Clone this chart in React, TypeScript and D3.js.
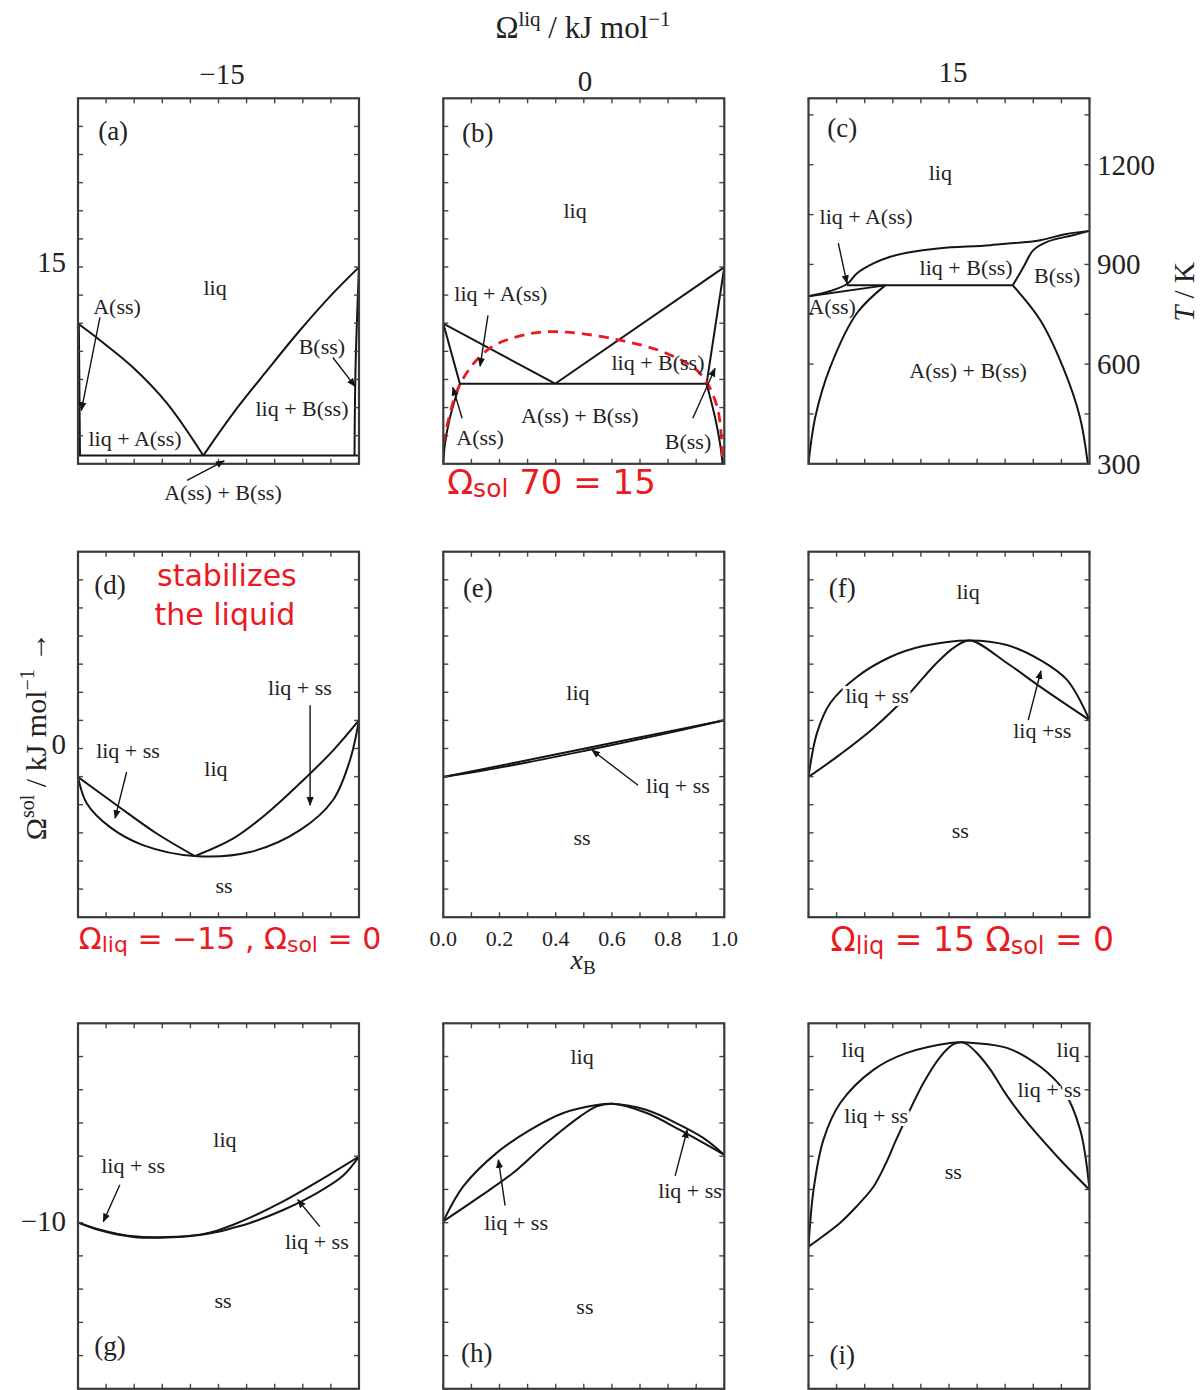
import React from 'react';
import * as d3 from 'd3';

type Pt = [number, number];

// ---------------- data (x_B, T/K) ----------------
// (a) Ωliq=-15, Ωsol=15
const aLiqA: Pt[] = [[0, 722], [0.078, 672], [0.196, 590], [0.317, 482], [0.446, 325]];
const aLiqB: Pt[] = [[0.446, 325], [0.552, 452], [0.673, 581], [0.79, 702], [0.907, 813], [1, 892]];
const aEut: Pt[] = [[0, 325], [1, 325]];
const aSolA: Pt[] = [[0.003, 722], [0.007, 325]];
const aSolB: Pt[] = [[1, 892], [0.988, 600], [0.984, 325]];

// (b) Ωliq=0, Ωsol=15
const bLiqA: Pt[] = [[0, 722], [0.398, 541]];
const bLiqB: Pt[] = [[0.398, 541], [1, 892]];
const bEut: Pt[] = [[0.059, 541], [0.937, 541]];
const bSolA: Pt[] = [[0, 722], [0.059, 541]];
const bSolvA: Pt[] = [[0.059, 541], [0.024, 440], [0.006, 361], [0, 300]];
const bSolB: Pt[] = [[1, 892], [0.937, 541]];
const bSolvB: Pt[] = [[0.937, 541], [0.967, 440], [0.985, 360], [0.994, 300]];
const bRedGap: Pt[] = [[0, 361], [0.059, 539], [0.166, 648], [0.319, 693], [0.44, 696], [0.629, 672], [0.796, 632], [0.914, 572], [0.975, 470], [0.993, 319]];

// (c) Ωliq=15, Ωsol=15
const cLiq: Pt[] = [[0, 804], [0.077, 820], [0.137, 841], [0.172, 873], [0.231, 903], [0.291, 923], [0.35, 935], [0.469, 949], [0.647, 958], [0.825, 973], [0.913, 991], [1, 1001]];
const cSolA: Pt[] = [[0, 804], [0.273, 837]];
const cPer: Pt[] = [[0.137, 837], [0.727, 837]];
const cSolvA: Pt[] = [[0.273, 837], [0.172, 753], [0.077, 590], [0.024, 440], [0, 300]];
const cSolvB: Pt[] = [[0.727, 837], [0.825, 732], [0.906, 590], [0.966, 440], [0.994, 300]];
const cSolB: Pt[] = [[0.727, 837], [0.765, 892], [0.8, 943], [0.849, 968], [0.942, 988], [1, 1001]];

// (d) Ωliq=-15, Ωsol=0
const dLiqA: Pt[] = [[0, 722], [0.138, 637], [0.28, 552], [0.416, 484]];
const dLiqB: Pt[] = [[0.416, 484], [0.553, 537], [0.672, 612], [0.79, 703], [0.909, 803], [1, 893]];
const dSol: Pt[] = [[0, 722], [0.031, 643], [0.114, 571], [0.231, 517], [0.416, 484], [0.612, 496], [0.79, 562], [0.907, 652], [0.968, 773], [1, 893]];

// (e) Ωliq=0, Ωsol=0
const eLiq: Pt[] = [[0, 722], [0.25, 764], [0.5, 807], [0.75, 850], [1, 893]];
const eSol: Pt[] = [[0, 722], [0.25, 758], [0.5, 800], [0.75, 845], [1, 893]];

// (f) Ωliq=15, Ωsol=0
const fLiq: Pt[] = [[0, 722], [0.03, 854], [0.077, 944], [0.172, 1023], [0.291, 1083], [0.408, 1116], [0.575, 1133], [0.706, 1119], [0.825, 1074], [0.92, 1014], [1, 893]];
const fSol: Pt[] = [[0, 722], [0.113, 790], [0.23, 868], [0.35, 965], [0.45, 1060], [0.52, 1113], [0.575, 1133], [0.706, 1065], [0.825, 993], [1, 893]];

// (g) Ωliq=-15, Ωsol=-10
const gLiq: Pt[] = [[0, 801], [0.078, 779], [0.197, 759], [0.316, 757], [0.434, 764], [0.494, 776], [0.55, 793], [0.612, 815], [0.73, 864], [0.85, 922], [1, 999]];
const gSol: Pt[] = [[0, 801], [0.078, 777], [0.197, 757], [0.316, 755], [0.434, 763], [0.494, 772], [0.55, 784], [0.612, 799], [0.73, 838], [0.85, 889], [0.944, 942], [1, 999]];

// (h) Ωliq=0, Ωsol=-10
const hLiq: Pt[] = [[0, 804], [0.071, 909], [0.19, 1010], [0.309, 1079], [0.427, 1130], [0.546, 1154], [0.6, 1158], [0.724, 1139], [0.842, 1094], [0.925, 1055], [1, 1004]];
const hSol: Pt[] = [[0, 804], [0.131, 879], [0.249, 950], [0.368, 1040], [0.486, 1119], [0.546, 1150], [0.6, 1158], [0.724, 1130], [0.842, 1079], [1, 1004]];

// (i) Ωliq=15, Ωsol=-10
const iLiq: Pt[] = [[0, 728], [0.018, 899], [0.053, 1049], [0.113, 1160], [0.231, 1260], [0.35, 1311], [0.504, 1341], [0.545, 1343], [0.587, 1341], [0.706, 1326], [0.825, 1269], [0.907, 1199], [0.967, 1079], [1, 899]];
const iSol: Pt[] = [[0, 728], [0.113, 800], [0.17, 848], [0.231, 908], [0.275, 978], [0.315, 1055], [0.409, 1220], [0.469, 1299], [0.516, 1337], [0.545, 1343], [0.564, 1337], [0.6, 1310], [0.646, 1262], [0.7, 1190], [0.765, 1115], [0.884, 1000], [1, 899]];

// axis texts
const omegaLiqValues = ['\u221215', '0', '15'];
const omegaSolValues = ['15', '0', '\u221210'];
const tempTicks = [300, 600, 900, 1200];
const xTicks = [0, 0.2, 0.4, 0.6, 0.8, 1.0];
const xMinorTicks = d3.range(0, 1.0001, 0.1);
const T_MIN = 300;
const T_MAX = 1400;

// ---------------- layout ----------------
const colLeft = [78, 443.3, 808.5];
const rowTop = [98.3, 551.7, 1023.3];
const PW = 281;
const PH = 365.5;
const FONT = '"Liberation Serif", "Times New Roman", serif';
const HAND = '"DejaVu Sans", sans-serif';
const RED = '#ea1a1f';
const INK = '#151515';

interface Curve { pts: Pt[]; red?: boolean }
interface Label { t: string; x: number; T: number; halo?: boolean; big?: boolean }
interface Arrow { from: Pt; to: Pt }
interface Panel { id: string; col: number; row: number; curves: Curve[]; labels: Label[]; arrows: Arrow[]; yTicks: number[] }

const ticks13 = d3.range(1, 13).map(i => T_MIN + (i * (T_MAX - T_MIN)) / 13);
const ticksC = [450, 600, 750, 900, 1050, 1200, 1350];
const ticks100 = d3.range(400, 1301, 100);

const panels: Panel[] = [
  {
    id: 'a', col: 0, row: 0, yTicks: ticks13,
    curves: [aLiqA, aLiqB, aEut, aSolA, aSolB].map(p => ({ pts: p })),
    labels: [
      { t: '(a)', x: 0.125, T: 1301, big: true },
      { t: 'liq', x: 0.488, T: 831 },
      { t: 'A(ss)', x: 0.139, T: 774 },
      { t: 'B(ss)', x: 0.868, T: 654 },
      { t: 'liq + B(ss)', x: 0.797, T: 467 },
      { t: 'liq + A(ss)', x: 0.203, T: 376 },
      { t: 'A(ss) + B(ss)', x: 0.516, T: 214 },
    ],
    arrows: [
      { from: [0.078, 741], to: [0.012, 461] },
      { from: [0.907, 620], to: [0.986, 533] },
      { from: [0.388, 250], to: [0.52, 309] },
    ],
  },
  {
    id: 'b', col: 1, row: 0, yTicks: ticks13,
    curves: [
      ...[bLiqA, bLiqB, bEut, bSolA, bSolvA, bSolB, bSolvB].map(p => ({ pts: p })),
      { pts: bRedGap, red: true },
    ],
    labels: [
      { t: '(b)', x: 0.123, T: 1296, big: true },
      { t: 'liq', x: 0.469, T: 1063 },
      { t: 'liq + A(ss)', x: 0.205, T: 813 },
      { t: 'liq + B(ss)', x: 0.764, T: 605 },
      { t: 'A(ss) + B(ss)', x: 0.486, T: 446 },
      { t: 'A(ss)', x: 0.131, T: 380 },
      { t: 'B(ss)', x: 0.871, T: 367 },
    ],
    arrows: [
      { from: [0.159, 747], to: [0.131, 594] },
      { from: [0.067, 437], to: [0.034, 530] },
      { from: [0.888, 437], to: [0.967, 587] },
    ],
  },
  {
    id: 'c', col: 2, row: 0, yTicks: ticksC,
    curves: [cLiq, cSolA, cPer, cSolvA, cSolvB, cSolB].map(p => ({ pts: p })),
    labels: [
      { t: '(c)', x: 0.12, T: 1310, big: true },
      { t: 'liq', x: 0.469, T: 1178 },
      { t: 'liq + A(ss)', x: 0.205, T: 1045 },
      { t: 'liq + B(ss)', x: 0.561, T: 892 },
      { t: 'B(ss)', x: 0.885, T: 868 },
      { t: 'A(ss)', x: 0.084, T: 774 },
      { t: 'A(ss) + B(ss)', x: 0.568, T: 581 },
    ],
    arrows: [{ from: [0.106, 964], to: [0.137, 843] }],
  },
  {
    id: 'd', col: 0, row: 1, yTicks: ticks13,
    curves: [dLiqA, dLiqB, dSol].map(p => ({ pts: p })),
    labels: [
      { t: '(d)', x: 0.114, T: 1300, big: true },
      { t: 'liq + ss', x: 0.178, T: 803 },
      { t: 'liq', x: 0.491, T: 749 },
      { t: 'liq + ss', x: 0.79, T: 990 },
      { t: 'ss', x: 0.52, T: 396 },
    ],
    arrows: [
      { from: [0.173, 737], to: [0.132, 598] },
      { from: [0.826, 938], to: [0.826, 637] },
    ],
  },
  {
    id: 'e', col: 1, row: 1, yTicks: ticks13,
    curves: [eLiq, eSol].map(p => ({ pts: p })),
    labels: [
      { t: '(e)', x: 0.123, T: 1291, big: true },
      { t: 'liq', x: 0.479, T: 977 },
      { t: 'liq + ss', x: 0.835, T: 697 },
      { t: 'ss', x: 0.494, T: 541 },
    ],
    arrows: [{ from: [0.693, 697], to: [0.529, 803] }],
  },
  {
    id: 'f', col: 2, row: 1, yTicks: ticks13,
    curves: [fLiq, fSol].map(p => ({ pts: p })),
    labels: [
      { t: '(f)', x: 0.12, T: 1291, big: true },
      { t: 'liq', x: 0.568, T: 1279 },
      { t: 'liq + ss', x: 0.244, T: 968, halo: true },
      { t: 'liq +ss', x: 0.832, T: 863 },
      { t: 'ss', x: 0.54, T: 562 },
    ],
    arrows: [{ from: [0.782, 893], to: [0.827, 1041] }],
  },
  {
    id: 'g', col: 0, row: 2, yTicks: ticks100,
    curves: [gLiq, gSol].map(p => ({ pts: p })),
    labels: [
      { t: 'liq', x: 0.523, T: 1049 },
      { t: 'liq + ss', x: 0.196, T: 971 },
      { t: 'liq + ss', x: 0.85, T: 743 },
      { t: 'ss', x: 0.516, T: 565 },
      { t: '(g)', x: 0.114, T: 430, big: true },
    ],
    arrows: [
      { from: [0.149, 914], to: [0.09, 803] },
      { from: [0.861, 788], to: [0.782, 869] },
    ],
  },
  {
    id: 'h', col: 1, row: 2, yTicks: ticks100,
    curves: [hLiq, hSol].map(p => ({ pts: p })),
    labels: [
      { t: 'liq', x: 0.494, T: 1299 },
      { t: 'liq + ss', x: 0.259, T: 800 },
      { t: 'liq + ss', x: 0.878, T: 896 },
      { t: 'ss', x: 0.504, T: 547 },
      { t: '(h)', x: 0.119, T: 409, big: true },
    ],
    arrows: [
      { from: [0.22, 851], to: [0.196, 989] },
      { from: [0.825, 941], to: [0.868, 1079] },
    ],
  },
  {
    id: 'i', col: 2, row: 2, yTicks: ticks100,
    curves: [iLiq, iSol].map(p => ({ pts: p })),
    labels: [
      { t: 'liq', x: 0.159, T: 1320 },
      { t: 'liq', x: 0.924, T: 1320 },
      { t: 'liq + ss', x: 0.241, T: 1124, halo: true },
      { t: 'liq + ss', x: 0.857, T: 1200, halo: true },
      { t: 'ss', x: 0.515, T: 953 },
      { t: '(i)', x: 0.12, T: 403, big: true },
    ],
    arrows: [],
  },
];

function scalesFor(col: number, row: number) {
  const left = colLeft[col];
  const top = rowTop[row];
  const x = d3.scaleLinear().domain([0, 1]).range([left, left + PW]);
  const y = d3.scaleLinear().domain([T_MIN, T_MAX]).range([top + PH, top]);
  return { x, y, left, top };
}

function PanelView({ p }: { p: Panel }) {
  const { x, y, left, top } = scalesFor(p.col, p.row);
  const gen = d3
    .line<Pt>()
    .x(d => x(d[0]))
    .y(d => y(d[1]))
    .curve(d3.curveCatmullRom.alpha(0.5));
  const clipId = `clip-${p.id}`;
  const right = left + PW;
  const bottom = top + PH;
  const TL = 5;
  return (
    <g>
      <defs>
        <clipPath id={clipId}>
          <rect x={left} y={top} width={PW} height={PH} />
        </clipPath>
      </defs>
      <g clipPath={`url(#${clipId})`}>
        {p.curves.map((c, i) => (
          <path
            key={i}
            d={gen(c.pts) || ''}
            fill="none"
            stroke={c.red ? RED : INK}
            strokeWidth={c.red ? 2.8 : 2}
            strokeDasharray={c.red ? '10 7' : undefined}
            strokeLinejoin="round"
          />
        ))}
      </g>
      <g stroke="#444" strokeWidth={1.4}>
        {xMinorTicks.map((v, i) => (
          <g key={'x' + i}>
            <line x1={x(v)} x2={x(v)} y1={top} y2={top + TL} />
            <line x1={x(v)} x2={x(v)} y1={bottom} y2={bottom - TL} />
          </g>
        ))}
        {p.yTicks.map((v, i) => (
          <g key={'y' + i}>
            <line x1={left} x2={left + TL} y1={y(v)} y2={y(v)} />
            <line x1={right} x2={right - TL} y1={y(v)} y2={y(v)} />
          </g>
        ))}
      </g>
      <rect x={left} y={top} width={PW} height={PH} fill="none" stroke="#3a3a3a" strokeWidth={2.2} />
      {p.arrows.map((a, i) => (
        <line
          key={'a' + i}
          x1={x(a.from[0])}
          y1={y(a.from[1])}
          x2={x(a.to[0])}
          y2={y(a.to[1])}
          stroke={INK}
          strokeWidth={1.4}
          markerEnd="url(#arrowhead)"
        />
      ))}
      {p.labels.map((l, i) => (
        <text
          key={'l' + i}
          x={x(l.x)}
          y={y(l.T)}
          textAnchor="middle"
          dominantBaseline="central"
          fontSize={l.big ? 27 : 22}
          fill="#222"
          stroke={l.halo ? '#fff' : undefined}
          strokeWidth={l.halo ? 6 : undefined}
          paintOrder="stroke"
        >
          {l.t}
        </text>
      ))}
    </g>
  );
}

export default function App() {
  const c1 = scalesFor(2, 0);
  const e = scalesFor(1, 1);
  const b = scalesFor(1, 0);
  const d = scalesFor(0, 1);
  const f = scalesFor(2, 1);
  const colCenterOffsets = [[3.5, 84], [1.2, 91], [4, 82]];
  const rowLabelY = [272, 754, 1231];
  return (
    <svg
      width={1204}
      height={1390}
      style={{ position: 'absolute', left: 0, top: 0, background: '#fff' }}
      fontFamily={FONT}
    >
      <defs>
        <marker
          id="arrowhead"
          viewBox="0 0 10 10"
          refX="9"
          refY="5"
          markerWidth="9"
          markerHeight="9"
          markerUnits="userSpaceOnUse"
          orient="auto"
        >
          <path d="M0,1 L10,5 L0,9 z" fill={INK} />
        </marker>
      </defs>
      <rect width={1204} height={1390} fill="#fff" />

      <text x={583} y={38} textAnchor="middle" fontSize={31} fill="#222">
        <tspan>Ω</tspan>
        <tspan fontSize={21} dy={-12}>liq</tspan>
        <tspan dy={12}> / kJ mol</tspan>
        <tspan fontSize={21} dy={-12}>−1</tspan>
      </text>
      {omegaLiqValues.map((v, i) => (
        <text
          key={'cl' + i}
          x={colLeft[i] + PW / 2 + colCenterOffsets[i][0]}
          y={colCenterOffsets[i][1]}
          textAnchor="middle"
          fontSize={29}
          fill="#222"
        >
          {v}
        </text>
      ))}
      {omegaSolValues.map((v, i) => (
        <text key={'rl' + i} x={66} y={rowLabelY[i]} textAnchor="end" fontSize={29} fill="#222">
          {v}
        </text>
      ))}
      <text transform="translate(46,736) rotate(-90)" textAnchor="middle" fontSize={30} fill="#222">
        <tspan>Ω</tspan>
        <tspan fontSize={20} dy={-12}>sol</tspan>
        <tspan dy={12}> / kJ mol</tspan>
        <tspan fontSize={20} dy={-12}>−1</tspan>
        <tspan dy={12}> →</tspan>
      </text>

      {tempTicks.map(t => (
        <text key={'t' + t} x={1097} y={c1.y(t)} dominantBaseline="central" fontSize={29} fill="#222">
          {t}
        </text>
      ))}
      <text transform="translate(1194,292) rotate(-90)" textAnchor="middle" fontSize={29} fill="#222">
        <tspan fontStyle="italic">T</tspan>
        <tspan> / K</tspan>
      </text>

      {xTicks.map(v => (
        <text key={'xt' + v} x={e.x(v)} y={938} textAnchor="middle" dominantBaseline="central" fontSize={22} fill="#222">
          {v.toFixed(1)}
        </text>
      ))}
      <text x={583} y={969} textAnchor="middle" fontSize={28} fill="#222">
        <tspan fontStyle="italic">x</tspan>
        <tspan fontSize={19} dy={5}>B</tspan>
      </text>

      {panels.map(p => (
        <PanelView key={p.id} p={p} />
      ))}

      <g fontFamily={HAND} fill={RED}>
        <text x={b.x(0.385)} y={b.y(210)} textAnchor="middle" fontSize={34}>
          <tspan>Ω</tspan>
          <tspan fontSize={25} dy={3}>sol</tspan>
          <tspan dy={-3}> 70 = 15</tspan>
        </text>
        <text x={d.x(0.53)} y={d.y(1296)} textAnchor="middle" fontSize={30}>stabilizes</text>
        <text x={d.x(0.523)} y={d.y(1180)} textAnchor="middle" fontSize={30}>the liquid</text>
        <text x={d.x(0.541)} y={d.y(203)} textAnchor="middle" fontSize={30}>
          <tspan>Ω</tspan>
          <tspan fontSize={22} dy={3}>liq</tspan>
          <tspan dy={-3}> = −15 , Ω</tspan>
          <tspan fontSize={22} dy={3}>sol</tspan>
          <tspan dy={-3}> = 0</tspan>
        </text>
        <text x={f.x(0.583)} y={f.y(198)} textAnchor="middle" fontSize={33}>
          <tspan>Ω</tspan>
          <tspan fontSize={24} dy={3}>liq</tspan>
          <tspan dy={-3}> = 15  Ω</tspan>
          <tspan fontSize={24} dy={3}>sol</tspan>
          <tspan dy={-3}> = 0</tspan>
        </text>
      </g>
    </svg>
  );
}
